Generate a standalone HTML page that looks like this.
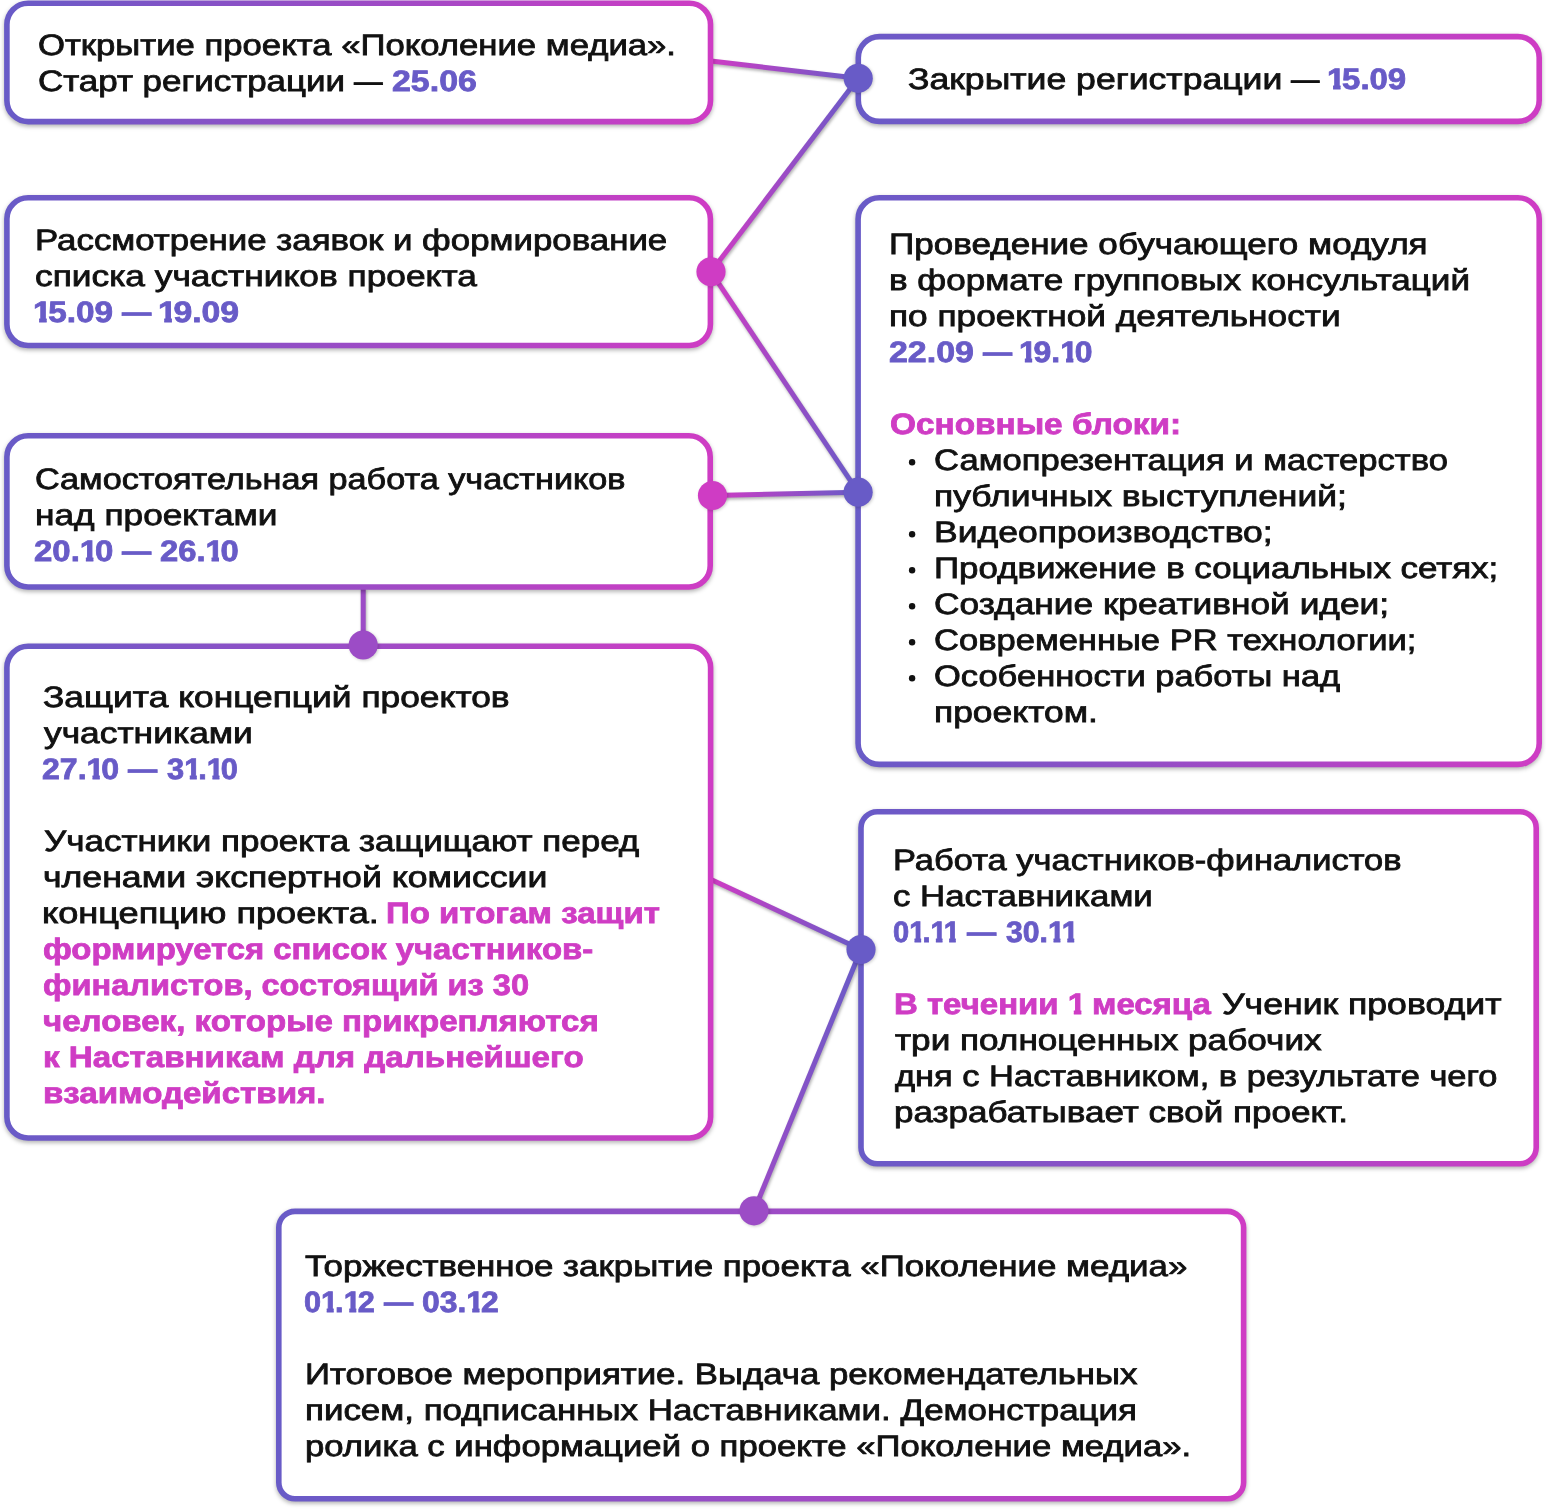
<!DOCTYPE html>
<html lang="ru"><head><meta charset="utf-8"><title>Поколение медиа</title>
<style>
html,body{margin:0;padding:0;background:#fff;}
body{width:1546px;height:1510px;position:relative;overflow:hidden;font-family:"Liberation Sans",sans-serif;}
.t{text-rendering:geometricPrecision;position:absolute;white-space:nowrap;font-size:29.5px;line-height:36px;height:36px;transform-origin:0 0;color:#111111;-webkit-text-stroke:0.8px #111111;}
.b{font-weight:bold;-webkit-text-stroke:0.8px currentColor;}
.bl{color:#685bc7;}.mg{color:#cf3cc4;}
.o{display:inline-block;margin-right:-0.1em;clip-path:polygon(0 0,100% 0,100% 22px,74% 22px,74% 100%,33% 100%,33% 22px,0 22px);}
svg{position:absolute;left:0;top:0;}
</style></head><body>
<svg width="1546" height="1510" viewBox="0 0 1546 1510"><defs>
<linearGradient id="g0" gradientUnits="userSpaceOnUse" x1="711" y1="61" x2="858.2" y2="78.3"><stop offset="0" stop-color="#cf3cc4"/><stop offset="1" stop-color="#685bc7"/></linearGradient>
<linearGradient id="g1" gradientUnits="userSpaceOnUse" x1="858.2" y1="78.3" x2="711" y2="271.8"><stop offset="0" stop-color="#685bc7"/><stop offset="1" stop-color="#cf3cc4"/></linearGradient>
<linearGradient id="g2" gradientUnits="userSpaceOnUse" x1="711" y1="271.8" x2="858.1" y2="492.2"><stop offset="0" stop-color="#cf3cc4"/><stop offset="1" stop-color="#685bc7"/></linearGradient>
<linearGradient id="g3" gradientUnits="userSpaceOnUse" x1="712.5" y1="495.5" x2="858.1" y2="492.2"><stop offset="0" stop-color="#cf3cc4"/><stop offset="1" stop-color="#685bc7"/></linearGradient>
<linearGradient id="g4" gradientUnits="userSpaceOnUse" x1="363.2" y1="588" x2="363.2" y2="645"><stop offset="0" stop-color="#9c4cc6"/><stop offset="1" stop-color="#9c4cc6"/></linearGradient>
<linearGradient id="g5" gradientUnits="userSpaceOnUse" x1="711" y1="879.5" x2="861" y2="949.5"><stop offset="0" stop-color="#cf3cc4"/><stop offset="1" stop-color="#685bc7"/></linearGradient>
<linearGradient id="g6" gradientUnits="userSpaceOnUse" x1="861" y1="949.5" x2="754" y2="1210.8"><stop offset="0" stop-color="#685bc7"/><stop offset="1" stop-color="#9c4cc6"/></linearGradient>
<linearGradient id="b0" gradientUnits="userSpaceOnUse" x1="4.1" y1="0" x2="713.3" y2="0"><stop offset="0" stop-color="#685bc7"/><stop offset="1" stop-color="#cf3cc4"/></linearGradient>
<linearGradient id="b1" gradientUnits="userSpaceOnUse" x1="855.5" y1="0" x2="1542" y2="0"><stop offset="0" stop-color="#685bc7"/><stop offset="1" stop-color="#cf3cc4"/></linearGradient>
<linearGradient id="b2" gradientUnits="userSpaceOnUse" x1="4.1" y1="0" x2="713.2" y2="0"><stop offset="0" stop-color="#685bc7"/><stop offset="1" stop-color="#cf3cc4"/></linearGradient>
<linearGradient id="b3" gradientUnits="userSpaceOnUse" x1="855.3" y1="0" x2="1542" y2="0"><stop offset="0" stop-color="#685bc7"/><stop offset="1" stop-color="#cf3cc4"/></linearGradient>
<linearGradient id="b4" gradientUnits="userSpaceOnUse" x1="4.1" y1="0" x2="713" y2="0"><stop offset="0" stop-color="#685bc7"/><stop offset="1" stop-color="#cf3cc4"/></linearGradient>
<linearGradient id="b5" gradientUnits="userSpaceOnUse" x1="4.1" y1="0" x2="713.4" y2="0"><stop offset="0" stop-color="#685bc7"/><stop offset="1" stop-color="#cf3cc4"/></linearGradient>
<linearGradient id="b6" gradientUnits="userSpaceOnUse" x1="858.2" y1="0" x2="1539" y2="0"><stop offset="0" stop-color="#685bc7"/><stop offset="1" stop-color="#cf3cc4"/></linearGradient>
<linearGradient id="b7" gradientUnits="userSpaceOnUse" x1="276" y1="0" x2="1246.4" y2="0"><stop offset="0" stop-color="#685bc7"/><stop offset="1" stop-color="#cf3cc4"/></linearGradient>
</defs>
<g style="filter:drop-shadow(1.5px 2.5px 1.5px rgba(0,0,0,.3))">
<line x1="711" y1="61" x2="858.2" y2="78.3" stroke="url(#g0)" stroke-width="5"/>
<line x1="858.2" y1="78.3" x2="711" y2="271.8" stroke="url(#g1)" stroke-width="5"/>
<line x1="711" y1="271.8" x2="858.1" y2="492.2" stroke="url(#g2)" stroke-width="5"/>
<line x1="712.5" y1="495.5" x2="858.1" y2="492.2" stroke="url(#g3)" stroke-width="5"/>
<line x1="363.2" y1="588" x2="363.2" y2="645" stroke="url(#g4)" stroke-width="5"/>
<line x1="711" y1="879.5" x2="861" y2="949.5" stroke="url(#g5)" stroke-width="5"/>
<line x1="861" y1="949.5" x2="754" y2="1210.8" stroke="url(#g6)" stroke-width="5"/>
</g>
<g style="filter:drop-shadow(0.5px 2.5px 2.2px rgba(0,0,0,.3))">
<rect x="6.9" y="3.2" width="703.6" height="118.4" rx="21.2" fill="#fff" stroke="url(#b0)" stroke-width="5.6"/>
<rect x="858.3" y="36.6" width="680.9" height="84.8" rx="21.2" fill="#fff" stroke="url(#b1)" stroke-width="5.6"/>
<rect x="6.9" y="197.8" width="703.5" height="147.7" rx="21.2" fill="#fff" stroke="url(#b2)" stroke-width="5.6"/>
<rect x="858.1" y="197.8" width="681.1" height="566.6" rx="21.2" fill="#fff" stroke="url(#b3)" stroke-width="5.6"/>
<rect x="6.9" y="435.8" width="703.3" height="151.2" rx="21.2" fill="#fff" stroke="url(#b4)" stroke-width="5.6"/>
<rect x="6.9" y="646.2" width="703.7" height="491.8" rx="21.2" fill="#fff" stroke="url(#b5)" stroke-width="5.6"/>
<rect x="861" y="811.7" width="675.2" height="352.1" rx="16.2" fill="#fff" stroke="url(#b6)" stroke-width="5.6"/>
<rect x="278.8" y="1211.4" width="964.8" height="287.4" rx="16.2" fill="#fff" stroke="url(#b7)" stroke-width="5.6"/>
</g>
<g style="filter:drop-shadow(1px 1.5px 1.5px rgba(0,0,0,.2))">
<circle cx="858.2" cy="78.3" r="14.6" fill="#685bc7"/>
<circle cx="711" cy="271.8" r="14.6" fill="#cf3cc4"/>
<circle cx="858.1" cy="492.2" r="14.6" fill="#685bc7"/>
<circle cx="712.5" cy="495.5" r="14.6" fill="#cf3cc4"/>
<circle cx="363.2" cy="645" r="14.6" fill="#9c4cc6"/>
<circle cx="861" cy="949.5" r="14.6" fill="#685bc7"/>
<circle cx="754" cy="1210.8" r="14.6" fill="#9c4cc6"/>
</g>
<circle cx="912.1" cy="462.3" r="3.2" fill="#111111"/>
<circle cx="912.1" cy="534.3" r="3.2" fill="#111111"/>
<circle cx="912.1" cy="570.3" r="3.2" fill="#111111"/>
<circle cx="912.1" cy="606.3" r="3.2" fill="#111111"/>
<circle cx="912.1" cy="642.3" r="3.2" fill="#111111"/>
<circle cx="912.1" cy="678.3" r="3.2" fill="#111111"/>
</svg>
<div class="t" style="left:38.34px;top:28px;transform:scaleX(1.1760)">Открытие проекта «Поколение медиа».</div>
<div class="t" style="left:38.29px;top:64px;transform:scaleX(1.1841)">Старт регистрации</div>
<div class="t" style="left:354.37px;top:64px;transform:scaleX(0.9706)">—</div>
<div class="t b bl" style="left:391.70px;top:64px;transform:scaleX(1.1492)">25.06</div>
<div class="t" style="left:908.20px;top:62px;transform:scaleX(1.2064)">Закрытие регистрации</div>
<div class="t" style="left:1290.97px;top:62px;transform:scaleX(0.9640)">—</div>
<div class="t b bl" style="left:1327.33px;top:62px;transform:scaleX(1.1169)"><span class="o">1</span>5.09</div>
<div class="t" style="left:34.74px;top:223px;transform:scaleX(1.1810)">Рассмотрение заявок и формирование</div>
<div class="t" style="left:34.62px;top:259px;transform:scaleX(1.1966)">списка участников проекта</div>
<div class="t b bl" style="left:32.91px;top:295px;transform:scaleX(1.1285)"><span class="o">1</span>5.09</div>
<div class="t b bl" style="left:121.80px;top:295px;transform:scaleX(0.9926)">—</div>
<div class="t b bl" style="left:158.28px;top:295px;transform:scaleX(1.1445)"><span class="o">1</span>9.09</div>
<div class="t" style="left:889.06px;top:227px;transform:scaleX(1.1889)">Проведение обучающего модуля</div>
<div class="t" style="left:889.35px;top:263px;transform:scaleX(1.1881)">в формате групповых консультаций</div>
<div class="t" style="left:889.34px;top:299px;transform:scaleX(1.1943)">по проектной деятельности</div>
<div class="t b bl" style="left:889.00px;top:335px;transform:scaleX(1.1492)">22.09</div>
<div class="t b bl" style="left:982.70px;top:335px;transform:scaleX(0.9861)">—</div>
<div class="t b bl" style="left:1019.28px;top:335px;transform:scaleX(1.0815)"><span class="o">1</span>9.<span class="o">1</span>0</div>
<div class="t b mg" style="left:889.63px;top:407px;transform:scaleX(1.1304)">Основные блоки:</div>
<div class="t" style="left:934.20px;top:443px;transform:scaleX(1.1733)">Самопрезентация и мастерство</div>
<div class="t" style="left:934.23px;top:479px;transform:scaleX(1.2026)">публичных выступлений;</div>
<div class="t" style="left:933.90px;top:515px;transform:scaleX(1.2032)">Видеопроизводство;</div>
<div class="t" style="left:933.97px;top:551px;transform:scaleX(1.1829)">Продвижение в социальных сетях;</div>
<div class="t" style="left:934.18px;top:587px;transform:scaleX(1.1958)">Создание креативной идеи;</div>
<div class="t" style="left:934.20px;top:623px;transform:scaleX(1.1708)">Современные PR технологии;</div>
<div class="t" style="left:934.25px;top:659px;transform:scaleX(1.1685)">Особенности работы над</div>
<div class="t" style="left:934.23px;top:695px;transform:scaleX(1.2001)">проектом.</div>
<div class="t" style="left:35.21px;top:462px;transform:scaleX(1.1597)">Самостоятельная работа участников</div>
<div class="t" style="left:35.24px;top:498px;transform:scaleX(1.1951)">над проектами</div>
<div class="t b bl" style="left:34.32px;top:534px;transform:scaleX(1.1173)">20.<span class="o">1</span>0</div>
<div class="t b bl" style="left:122.40px;top:534px;transform:scaleX(0.9893)">—</div>
<div class="t b bl" style="left:160.03px;top:534px;transform:scaleX(1.1101)">26.<span class="o">1</span>0</div>
<div class="t" style="left:43.40px;top:680px;transform:scaleX(1.1984)">Защита концепций проектов</div>
<div class="t" style="left:43.57px;top:716px;transform:scaleX(1.1983)">участниками</div>
<div class="t b bl" style="left:42.44px;top:752px;transform:scaleX(1.0872)">27.<span class="o">1</span>0</div>
<div class="t b bl" style="left:128.30px;top:752px;transform:scaleX(0.9893)">—</div>
<div class="t b bl" style="left:166.63px;top:752px;transform:scaleX(1.0435)">3<span class="o">1</span>.<span class="o">1</span>0</div>
<div class="t" style="left:43.56px;top:824px;transform:scaleX(1.1867)">Участники проекта защищают перед</div>
<div class="t" style="left:43.01px;top:860px;transform:scaleX(1.2079)">членами экспертной комиссии</div>
<div class="t" style="left:42.23px;top:896px;transform:scaleX(1.2259)">концепцию проекта.</div>
<div class="t b mg" style="left:385.55px;top:896px;transform:scaleX(1.1202)">По итогам защит</div>
<div class="t b mg" style="left:43.36px;top:932px;transform:scaleX(1.1150)">формируется список участников-</div>
<div class="t b mg" style="left:43.37px;top:968px;transform:scaleX(1.1032)">финалистов, состоящий из 30</div>
<div class="t b mg" style="left:43.36px;top:1004px;transform:scaleX(1.1207)">человек, которые прикрепляются</div>
<div class="t b mg" style="left:42.78px;top:1040px;transform:scaleX(1.1231)">к Наставникам для дальнейшего</div>
<div class="t b mg" style="left:42.77px;top:1076px;transform:scaleX(1.1219)">взаимодействия.</div>
<div class="t" style="left:893.37px;top:843px;transform:scaleX(1.1681)">Работа участников-финалистов</div>
<div class="t" style="left:893.34px;top:879px;transform:scaleX(1.1801)">с Наставниками</div>
<div class="t b bl" style="left:893.36px;top:915px;transform:scaleX(0.9850)">0<span class="o">1</span>.<span class="o">1</span><span class="o">1</span></div>
<div class="t b bl" style="left:967.30px;top:915px;transform:scaleX(0.9893)">—</div>
<div class="t b bl" style="left:1005.53px;top:915px;transform:scaleX(1.0234)">30.<span class="o">1</span><span class="o">1</span></div>
<div class="t b mg" style="left:893.86px;top:987px;transform:scaleX(1.1178)">В течении <span class="o">1</span> месяца</div>
<div class="t" style="left:1221.55px;top:987px;transform:scaleX(1.2072)">Ученик проводит</div>
<div class="t" style="left:894.87px;top:1023px;transform:scaleX(1.1916)">три полноценных рабочих</div>
<div class="t" style="left:895.02px;top:1059px;transform:scaleX(1.1674)">дня с Наставником, в результате чего</div>
<div class="t" style="left:893.77px;top:1095px;transform:scaleX(1.1871)">разрабатывает свой проект.</div>
<div class="t" style="left:305.24px;top:1249px;transform:scaleX(1.1826)">Торжественное закрытие проекта «Поколение медиа»</div>
<div class="t b bl" style="left:304.32px;top:1285px;transform:scaleX(1.0401)">0<span class="o">1</span>.<span class="o">1</span>2</div>
<div class="t b bl" style="left:383.90px;top:1285px;transform:scaleX(0.9893)">—</div>
<div class="t b bl" style="left:422.09px;top:1285px;transform:scaleX(1.0815)">03.<span class="o">1</span>2</div>
<div class="t" style="left:304.65px;top:1357px;transform:scaleX(1.1783)">Итоговое мероприятие. Выдача рекомендательных</div>
<div class="t" style="left:304.96px;top:1393px;transform:scaleX(1.1835)">писем, подписанных Наставниками. Демонстрация</div>
<div class="t" style="left:305.09px;top:1429px;transform:scaleX(1.1760)">ролика с информацией о проекте «Поколение медиа».</div>
</body></html>
